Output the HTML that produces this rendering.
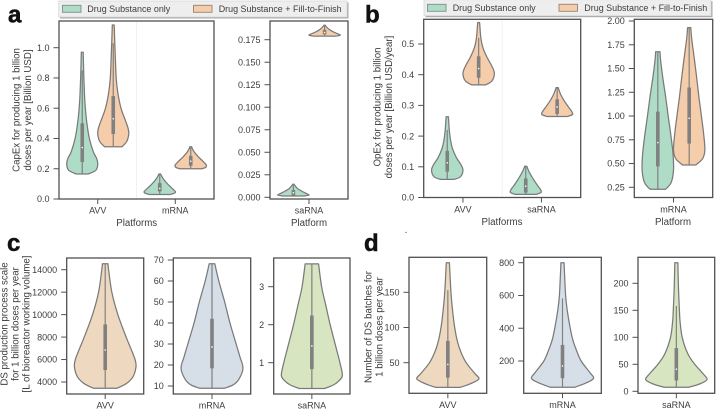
<!DOCTYPE html>
<html>
<head>
<meta charset="utf-8">
<style>
html,body{margin:0;padding:0;background:#fff;}
svg{display:block;}
text{font-family:"Liberation Sans",sans-serif;fill:#3d3d3d;}
</style>
</head>
<body>
<svg id="fig" xmlns="http://www.w3.org/2000/svg" width="716" height="409" viewBox="0 0 716 409">
  <g>
    <text x="8" y="22.5" style="font-size:24px;font-weight:bold;fill:#111;stroke:#111;stroke-width:.5">a</text>
    <text x="365" y="22.5" style="font-size:24px;font-weight:bold;fill:#111;stroke:#111;stroke-width:.5">b</text>
    <text x="7" y="251" style="font-size:24px;font-weight:bold;fill:#111;stroke:#111;stroke-width:.5">c</text>
    <text x="364" y="251" style="font-size:24px;font-weight:bold;fill:#111;stroke:#111;stroke-width:.5">d</text>
  </g>

  <g>
    <rect x="60" y="2.5" width="288.5" height="16" fill="#aaa"/>
    <rect x="58.7" y="1" width="288.3" height="16" fill="#eeeeee" stroke="#d5d5d5" stroke-width=".7"/>
    <rect x="62.5" y="5.3" width="18.5" height="7" fill="#aedcc7" stroke="#7f8f88" stroke-width=".9"/>
    <text x="87.3" y="12" font-size="8.95">Drug Substance only</text>
    <rect x="193.5" y="5.3" width="18.5" height="7" fill="#f6cdaa" stroke="#928577" stroke-width=".9"/>
    <text x="218.7" y="12" font-size="8.95">Drug Substance + Fill-to-Finish</text>
  </g>
  <g>
    <rect x="425.5" y="1.2" width="287" height="16" fill="#aaa"/>
    <rect x="424" y="-.3" width="287" height="16" fill="#eeeeee" stroke="#d5d5d5" stroke-width=".7"/>
    <rect x="427.5" y="4.3" width="18.5" height="7" fill="#aedcc7" stroke="#7f8f88" stroke-width=".9"/>
    <text x="452.7" y="11" font-size="8.95">Drug Substance only</text>
    <rect x="559" y="4.3" width="18.5" height="7" fill="#f6cdaa" stroke="#928577" stroke-width=".9"/>
    <text x="584.3" y="11" font-size="8.95">Drug Substance + Fill-to-Finish</text>
  </g>

  <g font-size="9.7" text-anchor="middle">
    <text transform="translate(19.5,110) rotate(-90)"><tspan x="0" y="0">CapEx for producing 1 billion</tspan><tspan x="0" y="11.6">doses per year [Billion USD]</tspan></text>
    <text transform="translate(380.5,107) rotate(-90)"><tspan x="0" y="0">OpEx for producing 1 billion</tspan><tspan x="0" y="11.6">doses per year [Billion USD/year]</tspan></text>
    <text transform="translate(7.5,324) rotate(-90)"><tspan x="0" y="0">DS production process scale</tspan><tspan x="0" y="11">for 1 billion doses per year</tspan><tspan x="0" y="22">[L of bioreactor working volume]</tspan></text>
    <text transform="translate(371.5,327) rotate(-90)"><tspan x="0" y="0">Number of DS batches for</tspan><tspan x="0" y="11">1 billion doses per year</tspan></text>
    <text x="136.7" y="226">Platforms</text>
    <text x="309" y="226">Platform</text>
    <text x="502" y="225">Platforms</text>
    <text x="673" y="225">Platform</text>
    <text x="406" y="233">.</text>
  </g>
</svg>
<script>
/* ---- tick labels ---- */
const a1Ticks=['0.0','0.2','0.4','0.6','0.8','1.0'];
const a2Ticks=['0.000','0.025','0.050','0.075','0.100','0.125','0.150','0.175'];
const b1Ticks=['0.0','0.1','0.2','0.3','0.4','0.5'];
const b2Ticks=['0.25','0.50','0.75','1.00','1.25','1.50','1.75','2.00'];
const c1Ticks=['4000','6000','8000','10000','12000','14000'];
const c2Ticks=['10','20','30','40','50','60','70'];
const c3Ticks=['1','2','3'];
const d1Ticks=['50','100','150'];
const d2Ticks=['200','400','600','800'];
const d3Ticks=['0','50','100','150','200'];

/* ---- categories ---- */
const a1Categories=['AVV','mRNA'];
const a2Categories=['saRNA'];
const b1Categories=['AVV','saRNA'];
const b2Categories=['mRNA'];
const c1Categories=['AVV'];
const c2Categories=['mRNA'];
const c3Categories=['saRNA'];
const d1Categories=['AVV'];
const d2Categories=['mRNA'];
const d3Categories=['saRNA'];

/* ---- violin data: value grid, relative density, stats [whiskerLow,q1,median,q3,whiskerHigh] ---- */
const capexAvvDsGrid=[.165,.19,.23,.27,.31,.4,.5,.6,.7,.85,.97];
const capexAvvDsDensity=[.38,.88,1,.92,.72,.46,.3,.2,.14,.09,.06];
const capexAvvDsStats=[.165,.245,.34,.5,.85];
const capexAvvFfGrid=[.345,.38,.43,.47,.52,.6,.7,.8,1.0,1.15];
const capexAvvFfDensity=[.56,.87,1,.95,.78,.5,.3,.19,.11,.06];
const capexAvvFfStats=[.345,.43,.53,.68,1.03];
const capexMrnaDsGrid=[.03,.04,.05,.07,.1,.13,.155,.165];
const capexMrnaDsDensity=[.7,.97,1,.8,.5,.25,.1,.06];
const capexMrnaDsStats=[.03,.05,.07,.105,.165];
const capexMrnaFfGrid=[.2,.21,.225,.25,.28,.31,.335,.345];
const capexMrnaFfDensity=[.72,.97,1,.78,.48,.23,.09,.06];
const capexMrnaFfStats=[.2,.22,.25,.285,.345];
const capexSaDsGrid=[.0015,.0025,.004,.007,.01,.0135,.0145];
const capexSaDsDensity=[.7,1,.85,.52,.25,.08,.05];
const capexSaDsStats=[.0015,.002,.005,.008,.0145];
const capexSaFfGrid=[.179,.18,.1815,.184,.187,.19,.191];
const capexSaFfDensity=[.72,1,.85,.52,.25,.08,.05];
const capexSaFfStats=[.179,.181,.183,.186,.191];

const opexAvvDsGrid=[.059,.068,.09,.11,.13,.16,.19,.22,.25,.263];
const opexAvvDsDensity=[.45,.85,1,.84,.58,.33,.2,.13,.09,.07];
const opexAvvDsStats=[.059,.084,.113,.152,.22];
const opexAvvFfGrid=[.367,.38,.405,.43,.46,.49,.52,.55,.57];
const opexAvvFfDensity=[.45,.85,1,.82,.5,.26,.14,.09,.06];
const opexAvvFfStats=[.367,.39,.42,.46,.52];
const opexSaDsGrid=[.01,.016,.025,.04,.06,.08,.097,.102];
const opexSaDsDensity=[.65,.97,.95,.74,.48,.25,.1,.07];
const opexSaDsStats=[.01,.016,.037,.062,.102];
const opexSaFfGrid=[.264,.27,.278,.295,.315,.335,.354,.358];
const opexSaFfDensity=[.65,.97,.95,.72,.45,.23,.09,.07];
const opexSaFfStats=[.264,.272,.295,.32,.358];
const opexMrnaDsGrid=[.23,.3,.43,.6,.8,1.0,1.2,1.4,1.6,1.677];
const opexMrnaDsDensity=[.5,.85,1,.97,.83,.66,.5,.32,.17,.14];
const opexMrnaDsStats=[.23,.47,.72,1.046,1.677];
const opexMrnaFfGrid=[.485,.55,.64,.8,1.0,1.2,1.4,1.6,1.8,1.93];
const opexMrnaFfDensity=[.42,.85,1,.93,.78,.62,.48,.33,.17,.1];
const opexMrnaFfStats=[.485,.71,.976,1.3,1.93];

const scaleAvvGrid=[3440,3850,4450,5350,6000,7000,8000,10000,12000,14000,14530];
const scaleAvvDensity=[.38,.68,.9,1,.97,.83,.68,.41,.215,.11,.09];
const scaleAvvStats=[3440,5070,6850,9130,14530];
const scaleMrnaGrid=[8.9,10.5,13,18.4,24,30,40,50,60,68.2];
const scaleMrnaDensity=[.4,.68,.86,1,.9,.78,.58,.41,.22,.09];
const scaleMrnaStats=[8.9,18.4,28.6,42,68.2];
const scaleSaGrid=[.32,.42,.55,.68,1,1.5,2,2.5,3,3.6];
const scaleSaDensity=[.41,.72,.92,1,.92,.76,.6,.46,.32,.22];
const scaleSaStats=[.32,.83,1.44,2.24,3.6];

const batchAvvGrid=[15,20,27,35,50,65,80,100,125,150,192];
const batchAvvDensity=[.4,.72,1,.86,.59,.42,.31,.22,.15,.1,.05];
const batchAvvStats=[15,28.7,47.6,81,153];
const batchMrnaGrid=[40,65,94,130,200,270,330,400,500,600,800];
const batchMrnaDensity=[.4,.75,1,.88,.6,.44,.33,.25,.16,.1,.05];
const batchMrnaStats=[40,95,170,298,582];
const batchSaGrid=[7.4,14,22,32,50,70,100,130,150,190,238];
const batchSaDensity=[.4,.78,1,.88,.6,.37,.19,.12,.1,.07,.05];
const batchSaStats=[7.4,20,41,80,158];

/* ---- layout only ---- */
const DS='#aedcc7', FF='#f6cdaa', OUT='#7a7a7a', BOX='#808080';
const panels=[
 {id:'a-left',x0:59,x1:214,y0:21,y1:199,lo:0,pxLo:199,hi:1,pxHi:47.7,ticks:a1Ticks,cats:a1Categories,divider:true,labY:213.5,
  violins:[
   {n:'capex-avv-ds',c:0,d:-1,g:capexAvvDsGrid,w:capexAvvDsDensity,s:capexAvvDsStats,f:DS},
   {n:'capex-avv-fill-finish',c:0,d:1,g:capexAvvFfGrid,w:capexAvvFfDensity,s:capexAvvFfStats,f:FF},
   {n:'capex-mrna-ds',c:1,d:-1,g:capexMrnaDsGrid,w:capexMrnaDsDensity,s:capexMrnaDsStats,f:DS},
   {n:'capex-mrna-fill-finish',c:1,d:1,g:capexMrnaFfGrid,w:capexMrnaFfDensity,s:capexMrnaFfStats,f:FF}]},
 {id:'a-right',x0:270,x1:348,y0:21,y1:199,lo:0,pxLo:197.3,hi:.175,pxHi:39.7,ticks:a2Ticks,cats:a2Categories,labY:213.5,
  violins:[
   {n:'capex-sarna-ds',c:0,d:-1,g:capexSaDsGrid,w:capexSaDsDensity,s:capexSaDsStats,f:DS},
   {n:'capex-sarna-fill-finish',c:0,d:1,g:capexSaFfGrid,w:capexSaFfDensity,s:capexSaFfStats,f:FF}]},
 {id:'b-left',x0:423.7,x1:580.7,y0:19.3,y1:197.5,lo:0,pxLo:197.5,hi:.5,pxHi:44,ticks:b1Ticks,cats:b1Categories,divider:true,labY:212.5,
  violins:[
   {n:'opex-avv-ds',c:0,d:-1,g:opexAvvDsGrid,w:opexAvvDsDensity,s:opexAvvDsStats,f:DS},
   {n:'opex-avv-fill-finish',c:0,d:1,g:opexAvvFfGrid,w:opexAvvFfDensity,s:opexAvvFfStats,f:FF},
   {n:'opex-sarna-ds',c:1,d:-1,g:opexSaDsGrid,w:opexSaDsDensity,s:opexSaDsStats,f:DS},
   {n:'opex-sarna-fill-finish',c:1,d:1,g:opexSaFfGrid,w:opexSaFfDensity,s:opexSaFfStats,f:FF}]},
 {id:'b-right',x0:634.3,x1:712.7,y0:19.3,y1:197.5,lo:.25,pxLo:187.3,hi:2,pxHi:21,ticks:b2Ticks,cats:b2Categories,labY:212.5,
  violins:[
   {n:'opex-mrna-ds',c:0,d:-1,g:opexMrnaDsGrid,w:opexMrnaDsDensity,s:opexMrnaDsStats,f:DS},
   {n:'opex-mrna-fill-finish',c:0,d:1,g:opexMrnaFfGrid,w:opexMrnaFfDensity,s:opexMrnaFfStats,f:FF}]},
 {id:'c-avv',x0:66.7,x1:143.7,y0:258,y1:394,lo:4000,pxLo:382,hi:14000,pxHi:269.7,ticks:c1Ticks,cats:c1Categories,labY:408.5,
  violins:[{n:'scale-avv',c:0,d:0,g:scaleAvvGrid,w:scaleAvvDensity,s:scaleAvvStats,f:'#eed9c0'}]},
 {id:'c-mrna',x0:173.3,x1:250.7,y0:258,y1:394,lo:10,pxLo:386,hi:70,pxHi:260,ticks:c2Ticks,cats:c2Categories,labY:408.5,
  violins:[{n:'scale-mrna',c:0,d:0,g:scaleMrnaGrid,w:scaleMrnaDensity,s:scaleMrnaStats,f:'#d6dfe8'}]},
 {id:'c-sarna',x0:273.7,x1:350,y0:258,y1:394,lo:1,pxLo:362.7,hi:3,pxHi:286.7,ticks:c3Ticks,cats:c3Categories,labY:408.5,
  violins:[{n:'scale-sarna',c:0,d:0,g:scaleSaGrid,w:scaleSaDensity,s:scaleSaStats,f:'#d7e5c1'}]},
 {id:'d-avv',x0:409,x1:486.7,y0:257.3,y1:393.3,lo:50,pxLo:362.7,hi:150,pxHi:292.3,ticks:d1Ticks,cats:d1Categories,labY:408,
  violins:[{n:'batches-avv',c:0,d:0,g:batchAvvGrid,w:batchAvvDensity,s:batchAvvStats,f:'#eed9c0'}]},
 {id:'d-mrna',x0:523.7,x1:601.3,y0:257.3,y1:393.3,lo:200,pxLo:361,hi:800,pxHi:262.7,ticks:d2Ticks,cats:d2Categories,labY:408,
  violins:[{n:'batches-mrna',c:0,d:0,g:batchMrnaGrid,w:batchMrnaDensity,s:batchMrnaStats,f:'#d6dfe8'}]},
 {id:'d-sarna',x0:638,x1:714.7,y0:257.3,y1:393.3,lo:0,pxLo:391.3,hi:200,pxHi:283.3,ticks:d3Ticks,cats:d3Categories,labY:408,
  violins:[{n:'batches-sarna',c:0,d:0,g:batchSaGrid,w:batchSaDensity,s:batchSaStats,f:'#d7e5c1'}]}
];

const svg=document.getElementById('fig');
const NS='http://www.w3.org/2000/svg';
function make(tag,parent,props){
  const el=document.createElementNS(NS,tag);
  for(const k in props){el.setAttribute(k,props[k]);}
  parent.appendChild(el);
  return el;
}
/* smooth path through points (Catmull-Rom to Bezier) */
function smooth(pts){
  let d='';
  for(let i=0;i<pts.length-1;i++){
    const p0=pts[Math.max(i-1,0)],p1=pts[i],p2=pts[i+1],p3=pts[Math.min(i+2,pts.length-1)];
    const c1x=p1[0]+(p2[0]-p0[0])/6,c1y=p1[1]+(p2[1]-p0[1])/6;
    const c2x=p2[0]-(p3[0]-p1[0])/6,c2y=p2[1]-(p3[1]-p1[1])/6;
    d+=' C'+c1x.toFixed(2)+' '+c1y.toFixed(2)+' '+c2x.toFixed(2)+' '+c2y.toFixed(2)+' '+p2[0].toFixed(2)+' '+p2[1].toFixed(2);
  }
  return d;
}
panels.forEach(function(p){
  const yScale=function(v){return p.pxLo+(v-p.lo)*(p.pxHi-p.pxLo)/(p.hi-p.lo);};
  const band=(p.x1-p.x0)/p.cats.length;
  const xScale=function(i){return p.x0+band*(i+.5);};

  const g=make('g',svg,{});
  
  

  if(p.divider){
    const div=make('line',g,{x1:(p.x0+p.x1)/2,x2:(p.x0+p.x1)/2,y1:p.y0,y2:p.y1,stroke:'#eeeeee','stroke-width':.8});
    
    
  }

  p.violins.forEach(function(v){
    const cx=xScale(v.c)+v.d*.2*band;
    const maxHalf=(v.d===0?.4:.2)*band;
    const left=v.g.map(function(val,i){return [cx-v.w[i]*maxHalf,yScale(val)];});
    const right=v.g.map(function(val,i){return [cx+v.w[i]*maxHalf,yScale(val)];}).reverse();
    const d='M'+left[0][0].toFixed(2)+' '+left[0][1].toFixed(2)+smooth(left)+' L'+right[0][0].toFixed(2)+' '+right[0][1].toFixed(2)+smooth(right)+' Z';
    const body=make('path',g,{d:d,fill:v.f,stroke:OUT,'stroke-width':1.25,'stroke-linejoin':'round'});
    
    
    const whisk=make('line',g,{x1:cx,x2:cx,y1:yScale(v.s[0]),y2:yScale(v.s[4]),stroke:BOX,'stroke-width':1.2});
    
    
    const box=make('rect',g,{x:cx-1.8,width:3.6,y:yScale(v.s[3]),height:yScale(v.s[1])-yScale(v.s[3]),fill:BOX,stroke:'none'});
    
    
    const med=make('circle',g,{cx:cx,cy:yScale(v.s[2]),r:.8,fill:'#fff'});
    
    
  });

  const frame=make('rect',g,{x:p.x0,y:p.y0,width:p.x1-p.x0,height:p.y1-p.y0,fill:'none',stroke:'#505050','stroke-width':1.3});
  
  

  p.ticks.forEach(function(lab){
    const y=yScale(Number(lab));
    const t=make('line',g,{x1:p.x0-5.5,x2:p.x0,y1:y,y2:y,stroke:'#505050','stroke-width':1});
    
    
    const tx=make('text',g,{x:p.x0-9.5,y:y+3.2,'text-anchor':'end','font-size':9});
    
    
    tx.textContent=lab;
  });
  p.cats.forEach(function(cat,i){
    const x=xScale(i);
    const t=make('line',g,{x1:x,x2:x,y1:p.y1,y2:p.y1+5,stroke:'#505050','stroke-width':1});
    
    
    const tx=make('text',g,{x:x,y:p.labY,'text-anchor':'middle','font-size':9});
    
    
    tx.textContent=cat;
  });
});
</script>
</body>
</html>
